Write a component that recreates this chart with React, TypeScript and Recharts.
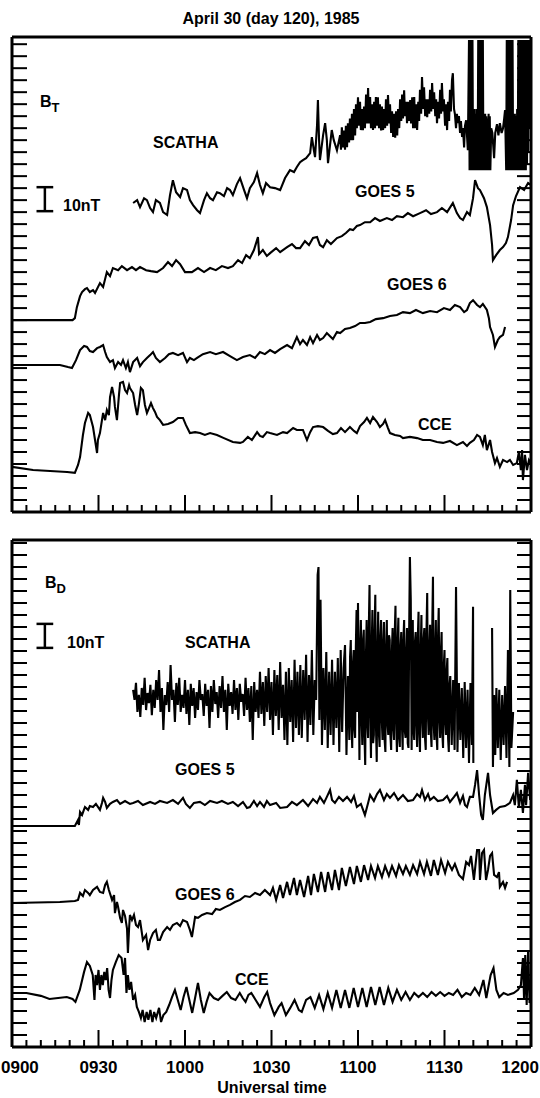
import { LineChart, Line, XAxis, YAxis, ReferenceLine } from 'recharts'

// time axis: minutes after 0900 UT
const MINOR_TICKS = [0, 5, 10, 15, 20, 25, 30, 35, 40, 45, 50, 55, 60, 65, 70, 75, 80, 85, 90, 95, 100, 105, 110, 115, 120, 125, 130, 135, 140, 145, 150, 155, 160, 165, 170, 175, 180]
const MAJOR_TICKS = [0, 30, 60, 90, 120, 150, 180]
const TIME_LABELS = ['0900', '0930', '1000', '1030', '1100', '1130', '1200']
const Y_TICKS_BT = [5, 10, 15, 20, 25, 30, 35, 40, 45, 50, 55, 60, 65, 70, 75, 80, 85, 90, 95, 100, 105, 110, 115, 120, 125, 130, 135, 140, 145, 150, 155, 160, 165, 170, 175, 180, 185, 190, 195]
const Y_TICKS_BD = [5, 10, 15, 20, 25, 30, 35, 40, 45, 50, 55, 60, 65, 70, 75, 80, 85, 90, 95, 100, 105, 110, 115, 120, 125, 130, 135, 140, 145, 150, 155, 160, 165, 170, 175, 180, 185, 190, 195, 200, 205, 210]

// B_T panel, stacked traces in nT (offsets as plotted)
const SCATHA_BT = [[42,128.8],[43.4,130],[44.4,127.1],[45.8,130.8],[46.8,130],[47.9,126.7],[48.9,125],[49.9,130],[51.3,128.8],[52.4,125],[53.8,123.8],[54.8,132.1],[55.8,138.3],[56.9,133.3],[58.3,131.3],[59.3,135],[60.7,134.2],[61.7,130],[62.8,127.9],[64.2,125.8],[65.2,124.6],[66.6,130],[67.6,132.9],[68.7,130.8],[69.7,130],[71.1,133.3],[72.1,132.9],[73.5,131.7],[74.6,135],[75.6,134.2],[76.6,132.1],[78,136.7],[79.1,139.2],[80.5,134.2],[81.5,130.8],[82.5,135],[83.9,137.5],[85,141.3],[86,136.3],[87,132.9],[88.1,137.1],[89.5,135.4],[91.2,135],[93,134.2],[94.7,139.2],[96.4,142.5],[97.8,141.7],[98.8,143.8],[99.9,145.8],[100.9,146.7],[102,147.5],[103.4,149.6],[104,156.3],[104.7,150.8],[105.1,147.9],[105.8,161.3],[106.1,171.7],[106.5,155],[106.8,146.7],[107.9,157.1],[108.6,162.1],[109.2,155],[109.6,145.4],[110.3,152.9],[110.9,159.2],[111.6,155],[112.7,150.8],[113.8,157.1],
  [114.1,151],[114.4,160.4],[114.8,152],[115.1,159],[115.5,151],[115.8,161],[116.2,152.1],[116.5,162],[116.9,154],[117.2,164],[117.6,155],[117.9,166],[118.3,155],[118.6,168],[119,157],[119.3,170],[119.6,160],[120,172.9],[120.3,161],[120.7,171],[121,159.2],[121.4,168],[121.7,159.2],[122.1,169],[122.4,160],[122.8,174],[123.1,162],[123.5,176.7],[123.8,162],[124.2,173],[124.5,160],[124.9,170],[125.2,159.2],[125.6,171],[125.9,160],[126.2,173],[126.6,161],[126.9,172.9],[127.3,160],[127.6,170],[128,159],[128.3,169],[128.7,159.2],[129,168],[129.4,160],[129.7,172],[130.1,161],[130.4,173.8],[130.8,162],[131.1,170],[131.5,158],[131.8,167],[132.2,156.3],[132.5,166],[132.9,156],[133.2,167],[133.6,157],[133.9,168],[134.3,160],[134.6,172],[135,163],[135.3,174],[135.6,164],[136,175.8],[136.3,165],[136.7,171],[137,162.1],[137.4,171],[137.7,163],[138.1,171.7],[138.4,162],[138.8,172.9],[139.1,160],[139.5,173],[139.8,160],[140.2,170],[140.5,159.2],[140.9,171],[141.2,163],[141.5,176],[141.9,166],[142.2,181.3],[142.6,168],[142.9,177],[143.3,165],[143.6,172],[144,164.6],[144.3,172],[144.7,166],[145,176],[145.4,167],[145.7,178.8],[146.1,168],[146.4,175],[146.8,165],[147.1,172],[147.4,162.1],[147.8,171],[148.1,164],[148.5,176],[148.8,166],[149.1,178.8],[149.5,167],[149.8,172],[150.2,161],[150.5,170],[150.9,159.2],[151.2,171],[151.6,163],[151.9,176],[152.2,167],[152.6,180],[152.9,182.9],[153.3,168],[153.6,166],[154,160],[154.3,166],[154.7,162.1],[155,165],[155.4,158],[155.7,163],[156.1,156.3],[156.4,160],[156.8,152],[157.1,161],[157.5,163.3],[158.1,150.8],
  [158.5,196.7],[158.7,142.5],[158.9,196.7],[159.1,142.5],[159.3,196.7],[159.5,142.5],[159.7,196.7],[159.9,142.5],[160.1,167],[160.3,142.5],[160.5,168],[160.7,142.5],[160.9,166],[161.1,142.5],[161.3,168],[161.5,142.5],[161.7,196.7],[161.9,142.5],[162.1,196.7],[162.3,142.5],[162.5,196.7],[162.7,142.5],[162.9,196.7],[163.1,142.5],[163.3,196.7],[163.5,142.5],[163.7,165],[163.9,142.5],[164.1,166],[164.3,142.5],[164.5,165],[164.7,142.5],[164.9,164],[165.1,142.5],[165.3,166],[165.5,142.5],[165.7,165],[165.9,142.5],[166.2,160],[166.6,158],[167.2,147.5],[167.6,158],[168.2,161.7],[168.7,157],[169.2,162.1],[169.8,158],[170.3,160],[170.7,164],[171,167.5],[171.4,142.5],[171.6,196.7],[171.8,142.5],[172,196.7],[172.2,142.5],[172.4,196.7],[172.6,142.5],[172.8,196.7],[173,142.5],[173.2,196.7],[173.4,142.5],[173.6,196.7],[173.8,142.5],[174,165],[174.2,142.5],[174.4,166],[174.6,142.5],[174.8,165],[175,142.5],[175.2,168],[175.4,142.5],[175.6,196.7],[175.8,142.5],[176,196.7],[176.2,142.5],[176.4,196.7],[176.6,142.5],[176.8,196.7],[177,142.5],[177.2,196.7],[177.4,142.5],[177.6,196.7],[177.8,142.5],[178,196.7],[178.2,142.5],[178.4,196.7],[178.6,145],[178.8,196.7],[179,150],[179.3,196.7],[179.6,160],[180,170]]

const GOES5_BT = [[0,80],[21,80],[21.8,80.8],[22.5,85.4],[23.6,90],[24.3,91.7],[25.3,92.9],[26,93.3],[27,91.7],[28.1,92.5],[28.8,91.3],[30.5,95.4],[31.6,93.8],[32.9,100],[34,98.3],[35,101.7],[36.8,100.8],[38.1,102.5],[39.9,100.8],[41.6,102.1],[43,100.8],[44.4,102.1],[46.5,100.8],[48.2,100.4],[50.3,100],[52.4,101.7],[54.1,104.2],[55.5,102.5],[56.9,105],[58.3,103.3],[60,100],[62.4,100],[64.5,101.7],[66.6,100],[68.7,101.7],[70.7,100.8],[72.8,102.5],[74.9,101.7],[76.6,102.5],[78.4,105],[79.8,103.8],[81.2,107.1],[82.5,105.8],[83.9,109.2],[85.3,114.6],[85.7,107.5],[87,109.2],[88.4,106.7],[89.5,107.9],[91.6,110],[93,108.3],[95.4,110.4],[97.1,111.7],[98.5,110],[99.9,110],[101.6,112.9],[103,111.3],[104.4,114.2],[105.8,114.6],[106.8,111.3],[107.9,110.4],[109.2,113.3],[110.6,111.7],[112.7,114.2],[114.4,115],[115.8,116.3],[117.2,117.9],[118.3,117.5],[119.6,119.2],[120.7,119.6],[122.4,120.8],[124.2,120.8],[125.9,122.5],[127.6,121.3],[130,122.5],[131.8,121.7],[133.5,123.3],[135.6,122.9],[137.3,124.6],[139.1,123.3],[141.5,124.6],[143.6,125.8],[145.3,124.2],[147.4,125],[149.1,126.7],[150.9,125],[152.9,128.8],[154.3,124.6],[155.4,122.5],[156.4,121.7],[157.8,125],[158.8,123.8],[159.9,130.8],[160.6,138.3],[161.6,135],[162.3,134.2],[163.7,130.8],[164.7,127.1],[165.8,119.6],[166.5,111.3],[166.8,105],[167.9,107.1],[169.2,109.2],[170.3,110.4],[171.3,112.1],[172,114.6],[173.1,121.7],[173.8,127.9],[174.8,131.7],[176.2,135.4],[177.6,134.2],[179,137.1],[180,136.3]]

const GOES6_BT = [[0,61.3],[16.6,61.3],[19.4,60.4],[20.8,60],[22.2,63.3],[23.6,67.5],[25,69.2],[26,68.8],[27,67.1],[28.1,66.7],[29.5,68.3],[30.5,68.8],[31.6,69.6],[32.3,66.7],[32.9,64.6],[34,62.5],[35,63.3],[35.7,60],[36.8,62.5],[37.8,61.3],[38.5,63.3],[39.5,60],[40.2,62.5],[40.9,58.3],[42,62.5],[43.4,64.2],[44.4,60.8],[45.4,62.5],[46.8,64.2],[47.9,65.4],[48.9,66.7],[49.9,64.2],[51.3,62.5],[53.1,64.2],[54.4,65.8],[55.8,66.3],[57.6,65.4],[59.3,66.3],[60.7,62.5],[61.7,64.2],[63.1,63.3],[64.2,64.2],[66.2,65.8],[68.7,66.7],[70.7,65.8],[73.2,66.7],[75.6,65],[78,63.3],[80.1,64.6],[82.5,65.4],[84.3,64.2],[86,66.7],[87.7,65.8],[89.5,67.5],[91.2,66.3],[93,67.9],[95.4,69.6],[97.1,68.3],[98.8,72.9],[99.9,70],[100.9,71.7],[102.3,69.6],[103.4,72.9],[104.4,70.4],[105.8,73.8],[106.8,71.7],[107.9,72.5],[109.2,74.6],[110.3,73.3],[111.3,72.1],[112.7,75],[113.8,74.6],[115.5,76.3],[117.2,76.7],[119,77.5],[120.7,78.8],[122.4,78.8],[124.2,79.2],[126.2,80.4],[128.7,80.8],[131.1,81.7],[133.5,82.1],[135.6,83.3],[138,82.9],[140.1,84.2],[142.5,82.9],[145,83.8],[147.4,83.3],[149.8,85],[151.9,84.2],[153.6,86.3],[155.4,85.4],[156.8,83.3],[157.8,84.2],[158.8,87.1],[159.9,88.3],[161.3,86.3],[162.3,85.4],[163.3,86.7],[164.7,84.2],[165.4,80.8],[165.8,77.1],[166.8,73.8],[167.5,68.8],[168.5,71.7],[169.2,72.9],[170.3,73.8],[171,77.1]]

const CCE_BT = [[0,18.8],[7.3,17.5],[13.2,17.1],[19.1,16.7],[21.8,16.3],[22.9,19.6],[23.6,22.9],[24.6,32.1],[25.3,37.1],[26.4,41.3],[27,40.4],[28.1,35.4],[28.8,30],[29.5,24.6],[29.8,30],[30.5,32.9],[31.6,41.3],[32.3,38.3],[32.9,42.5],[33.6,40.4],[34,47.9],[34.7,52.1],[35.4,47.9],[35.7,43.8],[36.4,38.3],[37.1,48.8],[37.5,53.8],[38.5,54.2],[39.2,50.8],[39.9,49.6],[40.6,52.9],[40.9,51.7],[42,49.6],[42.7,44.6],[43.4,40.4],[44,45],[44.7,51.7],[45.4,50.8],[46.1,44.6],[46.8,41.3],[47.5,43.3],[48.2,45.4],[48.9,43.3],[49.6,41.7],[50.3,39.6],[51.3,38.3],[52.4,36.3],[54.1,36.7],[55.8,37.5],[57.6,39.2],[59.3,39.2],[60.3,36.3],[61.7,32.9],[63.5,33.3],[65.2,32.9],[66.9,32.1],[68.7,32.9],[71.1,32.1],[73.5,30.8],[76.6,29.2],[79.1,28.8],[80.1,29.2],[81.8,31.3],[83.2,30],[85,33.3],[86,31.7],[87,31.3],[88.4,33.3],[89.5,32.9],[91.9,32.1],[94,33.3],[95.4,32.9],[97.5,35],[98.8,34.2],[100.9,34.2],[102.3,30],[103.4,33.3],[104.4,35.4],[106.1,35.8],[107.9,35.4],[109.6,33.8],[111.3,32.5],[112.7,32.9],[114.1,35],[115.5,33.3],[117.2,35.4],[118.6,33.8],[119.6,32.9],[120.7,35.8],[122.1,37.5],[123.1,39.2],[124.2,37.1],[125.2,39.6],[126.6,37.5],[127.6,35.4],[128.7,36.7],[129.4,38.3],[130.4,35],[131.1,32.9],[132.8,32.1],[134.6,31.7],[135.6,30.8],[138,31.3],[140.5,30.8],[142.5,30],[145,30],[147.4,29.2],[149.5,28.8],[151.9,29.6],[154.3,27.9],[156.4,29.2],[157.8,27.5],[158.8,28.8],[160.2,30],[161.3,32.1],[162.3,31.3],[163.3,27.9],[164,32.1],[164.7,25.8],[165.8,30],[166.5,25],[167.5,20.4],[168.2,22.5],[169.2,18.8],[170.3,21.7],[171.7,20.8],[172.7,21.7],[173.8,19.6],[175.1,20.4],[175.8,25],[176.5,17.5],[176.9,25.8],[177.2,13.3],[177.9,23.8],[178.6,17.5],[179.3,21.7],[180,20.4]]

// B_D panel
const SCATHA_BD_BASE = 144.6
const SCATHA_BD = [[42,4.2],[42.5,0],[43,7.1],[43.5,-5],[44,2.1],[44.5,-7.1],[45,5],[45.5,-2.1],[46,9.2],[46.5,-4.2],[47,2.9],[47.5,-1.3],[48,6.3],[48.5,-6.3],[49,4.2],[49.5,-3.3],[50,8.3],[50.5,0],[51,12.5],[51.5,-5],[52,5],[52.5,-12.5],[53,2.1],[53.5,-2.1],[54,7.5],[54.5,-5],[55,14.6],[55.5,0],[56,4.2],[56.5,-9.2],[57,7.1],[57.5,-2.1],[58,9.2],[58.5,-5],[59,2.1],[59.5,-3.3],[60,8.3],[60.5,-5.8],[61,4.2],[61.5,-10.4],[62,6.7],[62.5,-2.5],[63,5],[63.5,-7.5],[64,3.3],[64.5,-4.2],[65,8.3],[65.5,0],[66,2.5],[66.5,-6.7],[67,6.7],[67.5,-2.5],[68,4.2],[68.5,-11.7],[69,5.8],[69.5,-5],[70,8.3],[70.5,-1.7],[71,3.3],[71.5,-7.5],[72,5.8],[72.5,-3.3],[73,10],[73.5,-5],[74,4.2],[74.5,-12.5],[75,6.7],[75.5,-2.5],[76,3.3],[76.5,-5.8],[77,8.3],[77.5,-4.2],[78,5],[78.5,-8.3],[79,6.7],[79.5,-0.8],[80,2.5],[80.5,-6.7],[81,9.2],[81.5,-4.2],[82,5],[82.5,-9.2],[83,5.8],[83.5,-16.7],[84,7.5],[84.5,-5],[85,4.2],[85.5,-7.5],[86,11.7],[86.5,-5.8],[87,7.5],[87.5,-10.8],[88,10],[88.5,-5],[89,13.3],[89.5,-8.3],[90,7.5],[90.5,-14.6],[91,12.5],[91.5,-6.7],[92,10.4],[92.5,-12.5],[93,15.8],[93.5,-7.5],[94,6.3],[94.5,-16.7],[95,11.7],[95.5,-18.8],[96,13.3],[96.5,-9.2],[97,8.3],[97.5,-17.5],[98,16.7],[98.5,-11.7],[99,11.7],[99.5,-14.6],[100,14.6],[100.5,-15.8],[101,12.5],[101.5,-8.3],[102,18.8],[102.5,-17.5],[103,10.4],[103.5,-10.4],[104,20.8],[104.5,-14.6],[105,8.3],[105.5,0],[106,52.1],[106.3,55.4],[106.6,-8.3],[107,41.7],[107.5,-18.8],[108,13.3],[108.5,-12.5],[109,20],[109.5,-20],[110,11.7],[110.5,-14.6],[111,16.7],[111.5,-18.8],[112,11.7],[112.5,-11.7],[113,17.5],[113.5,-21.7],[114,20.8],[114.5,-13.3],[115,13.3],[115.5,22.9],[116,-22.9],[116.5,10],
  [117,-16.7],[117.25,18],[117.5,25],[117.75,-10],[118,-20],[118.25,15],[118.5,20.8],[118.75,-12],[119,-15.8],[119.25,22],[119.5,37.5],[119.75,-5],[120,40.4],[120.25,10],[120.5,-25],[120.75,20],[121,33.3],[121.25,-8],[121.5,-18.8],[121.75,25],[122,29.2],[122.25,-15],[122.5,-27.1],[122.75,18],[123,33.3],[123.25,-10],[123.5,-15.8],[123.75,30],[124,47.9],[124.25,-5],[124.5,-24.2],[124.75,22],[125,37.5],[125.25,-18],[125.5,-14.6],[125.75,28],[126,43.8],[126.25,-12],[126.5,-25.8],[126.75,20],[127,36.7],[127.25,-14],[127.5,-19.6],[127.75,26],[128,33.3],[128.25,-8],[128.5,-16.7],[128.75,24],[129,32.5],[129.25,-17],[129.5,-21.7],[129.75,22],[130,33.3],[130.25,-10],[130.5,-14.6],[130.75,27],[131,25],[131.25,-15],[131.5,-20.8],[131.75,20],[132,30],[132.25,-12],[132.5,-16.7],[132.75,28],[133,39.2],[133.25,-9],[133.5,-21.7],[133.75,24],[134,34.2],[134.25,-16],[134.5,-19.6],[134.75,22],[135,28.3],[135.25,-11],[135.5,-20.8],[135.75,25],[136,33.3],[136.25,-13],[136.5,-15.8],[136.75,20],[137,30],[137.25,-18],[137.5,-20],[137.75,30],[138,59.6],[138.3,41.7],[138.6,-20.8],[138.8,18],[139,33.3],[139.25,-12],[139.5,-16.7],[139.75,24],[140,28.3],[140.25,-10],[140.5,-19.6],[140.75,26],[141,36.7],[141.25,-14],[141.5,-21.7],[141.75,20],[142,35.4],[142.25,-8],[142.5,-15.8],[142.75,25],[143,30],[143.25,-16],[143.5,-20.8],[143.75,28],[144,44.6],[144.25,-6],[144.5,-14.6],[144.75,22],[145,31.3],[145.25,-13],[145.5,-19.6],[145.75,30],[146,51.3],[146.25,-10],[146.5,-16.7],[146.75,22],[147,33.3],[147.25,-15],[147.5,-20.8],[147.75,26],[148,38.3],[148.25,-8],[148.5,-15.8],[148.75,20],[149,28.3],[149.25,-14],[149.5,-20],[149.75,14],[150,20.8],[150.25,-9],[150.5,-14.6],[150.75,12],[151,17.5],[151.25,-16],[151.5,-21.7],[151.75,6],[152,10],
  [152.5,-18.8],[153,8.3],[153.5,-20.8],[154,47.1],[154.5,-21.7],[155,7.1],[155.5,-16.7],[156,5],[156.5,-24.2],[157,7.5],[157.5,-20],[158,4.2],[158.5,-26.3],[159,7.1],[159.5,-18.8],[159.9,38.8],[160,-26.3],[163,null],[166.5,30],[166.8,-27.9],[167.2,2.1],[167.6,-22.9],[168,5],[168.5,-20],[169,4.2],[169.5,-25],[170,2.1],[170.5,-18.8],[171,5.8],[171.5,-24.2],[172,20.8],[172.5,-27.9],[172.8,45.8],[173.2,-20],[173.8,-5]]

const GOES5_BD = [[0,92.1],[21.8,92.1],[22.9,94.6],[23.2,92.5],[23.6,97.9],[24.3,96.7],[25.3,100],[26.4,98.8],[27,100.4],[28.1,100],[29.1,101.3],[30.5,98.8],[31.2,101.7],[31.6,103.8],[32.3,102.1],[32.9,99.6],[34,101.3],[35,102.1],[36.4,102.9],[37.5,101.3],[39.2,102.5],[40.9,101.3],[42,101.7],[43.7,102.5],[45.4,100.8],[47.9,102.1],[49.6,101.3],[51.3,102.5],[53.8,101.7],[55.8,102.9],[57.6,101.3],[59.3,103.8],[60.3,101.3],[61.7,99.6],[63.1,101.7],[65.2,102.1],[66.9,100.8],[68.7,102.5],[71.1,101.7],[72.8,102.5],[74.9,101.3],[76.6,102.1],[78.4,100.4],[80.1,102.1],[81.5,99.6],[82.5,100],[83.9,102.5],[85,100.4],[86,102.1],[87.4,100],[88.4,102.5],[89.5,100.8],[91.6,101.7],[93,99.6],[95.4,100],[97.1,102.1],[98.8,100.8],[100.9,102.9],[102.7,100.4],[104.4,103.3],[105.8,101.7],[106.8,104.2],[108.2,101.7],[109.2,104.2],[110.3,107.1],[111,102.9],[112,101.7],[113.4,104.2],[114.8,102.5],[116.2,104.2],[117.6,102.1],[118.6,104.6],[119.6,100],[121,101.3],[122.4,96.7],[123.5,101.7],[124.2,105],[125.5,102.5],[126.6,105.4],[127.6,107.1],[129,102.9],[130,105.4],[131.1,103.8],[132.5,105.8],[133.9,102.9],[135.6,105],[137.3,102.5],[139.1,102.9],[140.5,105.4],[141.5,104.2],[142.2,107.1],[143.2,102.9],[144.3,105.4],[145,102.9],[146.3,104.2],[147.7,102.5],[149.5,102.9],[150.9,104.6],[151.9,102.1],[153.3,104.2],[154.3,105.8],[155.4,101.7],[156.4,104.6],[157.1,100.8],[157.8,100],[158.8,104.2],[159.9,104.2],[160.6,109.2],[161.3,115.4],[162,105],[162.7,96.7],[163.3,94.6],[164,105],[165.1,114.2],[165.8,105],[166.8,97.5],[167.9,98.8],[169.2,100],[171,100.4],[172.7,101.7],[173.8,105],[174.4,100.8],[175.1,111.3],[175.8,99.6],[176.5,107.1],[177.2,97.5],[177.9,109.2],[178.3,100.8],[179,114.2],[179.7,102.9]]

const GOES6_BD = [[0,60],[16.6,60.4],[21.8,60.8],[22.9,61.3],[23.6,64.2],[24.6,62.9],[25.3,65.4],[26.4,64.2],[27,63.3],[28.1,65.4],[29.5,66.7],[30.5,64.6],[31.6,64.2],[32.3,67.5],[32.9,68.8],[33.6,65.4],[34.7,61.3],[35.4,63.3],[35.7,55.8],[36.4,60.4],[36.8,58.3],[37.5,53.8],[38.1,51.7],[38.5,57.1],[39.2,54.6],[39.9,49.2],[40.2,39.2],[40.6,49.2],[40.9,55],[41.6,52.9],[42.3,55],[43,50.8],[43.7,50],[44.4,52.9],[45.4,44.6],[46.5,46.7],[47.2,40.4],[47.9,44.6],[48.9,47.5],[49.9,48.8],[50.6,44.6],[51.3,44.6],[52.4,47.9],[53.8,50],[54.8,48.8],[55.8,50.8],[57.2,51.7],[58.3,50.4],[59.3,52.9],[60.7,52.1],[61.7,48.8],[62.4,45.8],[63.5,54.2],[64.5,53.8],[65.9,55],[67.6,55.8],[69.4,55.4],[70.7,57.5],[72.1,57.1],[73.9,58.3],[75.6,59.2],[77.3,60.4],[79.1,61.3],[80.8,62.9],[82.5,62.5],[84.3,64.2],[86,63.3],[87.7,65.4],[89.5,63.3],[90.5,66.3],[91.6,61.3],[93,67.5],[94,62.1],[95.4,68.8],[96.4,63.3],[97.8,70.4],[98.8,63.3],[99.9,69.6],[101.3,62.5],[102.7,71.3],[103.7,63.3],[104.7,72.1],[106.1,64.6],[107.2,72.9],[108.6,64.6],[109.6,72.9],[111,65.4],[112,73.8],[113.4,65.4],[114.4,74.6],[115.8,67.1],[117.2,75],[118.6,67.9],[119.6,75.4],[121,68.8],[122.1,75.8],[123.5,69.6],[124.5,75.4],[125.9,70.4],[126.9,75.4],[128.3,70.8],[129.4,75.4],[130.7,71.3],[131.8,75.4],[133.2,71.3],[134.2,75.8],[135.6,72.1],[136.6,75.4],[138,71.7],[139.1,75.8],[140.5,72.1],[141.5,77.1],[142.9,72.1],[143.9,77.1],[145.3,71.3],[146.3,77.9],[147.7,71.7],[148.8,77.9],[150.2,72.5],[151.2,77.1],[152.6,73.8],[153.6,76.3],[155,71.7],[156.4,70],[157.5,77.1],[158.5,75.8],[159.2,79.6],[160.2,69.6],[161.3,82.1],[162,82.1],[162.3,69.6],[163,80.8],[163.7,82.1],[164.4,69.6],[165.1,73.8],[165.8,79.6],[166.5,80.8],[167.2,71.7],[168.2,70.8],[168.9,72.9],[169.2,66.7],[170.3,68.8],[171,66.3],[171.7,68.8]]

const CCE_BD = [[0,22.5],[5,22.5],[10,21.3],[13,20],[16,20.4],[19,20.8],[21,20],[22,18.8],[23.5,23.8],[25,31.3],[26,35.4],[27,33.8],[28,30],[28.6,19.6],[29,30],[29.5,25.8],[30,32.1],[30.5,23.8],[31,30],[31.5,25.8],[32,31.3],[32.5,27.9],[33,32.9],[33.5,23.8],[34,20.4],[34.5,27.9],[35,32.1],[36,35.4],[37,38.3],[38,37.1],[38.7,30],[39.2,37.1],[39.7,22.5],[40.2,30],[40.7,23.8],[41.3,27.1],[42,19.6],[42.7,21.7],[43.3,16.7],[44,14.6],[44.7,12.1],[45.3,15.4],[46,10.4],[46.7,14.6],[47.3,11.3],[48,15.4],[48.7,10.4],[49.3,14.6],[50,12.1],[51,16.3],[51.7,10.4],[52.5,13.3],[53.5,14.6],[54.5,17.5],[55.5,20.8],[56.5,23.8],[57.5,19.6],[58.5,15.4],[59.5,20.8],[60.5,25],[61.5,19.6],[62.5,14.2],[63.5,20.4],[64.5,26.7],[65.5,19.6],[66.5,14.2],[67.5,18.8],[68.5,22.5],[70,20.4],[71.5,19.6],[73,21.3],[74.5,22.9],[76,20.4],[77.5,19.6],[79,22.5],[80,20.4],[81,18.8],[82,21.7],[83,22.5],[84.5,19.6],[86,16.7],[87.5,20.8],[88.5,22.9],[89.5,18.3],[91,13.3],[92.5,16.7],[93.5,18.3],[95,13.3],[96.5,16.3],[98,19.6],[99.5,15.4],[100.5,14.6],[102,19.6],[103.5,20.8],[105,16.3],[106.5,21.7],[108,15.8],[109.5,22.5],[111,16.3],[112.5,23.8],[114,16.3],[115.5,23.8],[117,16.3],[118.5,24.6],[120,16.7],[121.5,24.6],[123,16.7],[124.5,25],[126,17.5],[127.5,25],[129,17.5],[130.5,24.6],[132,18.8],[133.5,23.8],[135,19.6],[136.5,22.9],[138,19.6],[139.5,22.5],[141,20.8],[142.5,22.5],[144,20.8],[145.5,22.9],[147,21.3],[148.5,22.9],[150,21.3],[151.5,22.5],[153,21.7],[154.5,23.8],[156,20.8],[157.5,22.5],[159,21.7],[160.5,24.6],[162,21.7],[163.5,27.9],[164.5,20.4],[166,30],[167,32.9],[168,23.8],[169,20.8],[170.5,22.5],[172,21.7],[174,22.5],[175.5,23.8],[176.5,25.8],[177.2,37.1],[177.6,19.6],[178,38.3],[178.5,17.5],[179,40.4],[179.5,18.3],[180,25.8]]

type Pt = (number | null)[]
const rows = (pts: Pt[], base = 0) =>
  pts.map(([t, v]) => ({ t, v: v === null ? null : (v as number) + base }))

const TOP_SERIES = [rows(SCATHA_BT), rows(GOES5_BT), rows(GOES6_BT), rows(CCE_BT)]
const BOT_SERIES = [rows(SCATHA_BD, SCATHA_BD_BASE), rows(GOES5_BD), rows(GOES6_BD), rows(CCE_BD)]

const FONT = '"Liberation Sans", Arial, Helvetica, sans-serif'
const AXIS = { stroke: '#000', strokeWidth: 3 }

const bottomTick = (withLabels: boolean) => (p: any) => {
  const i = MAJOR_TICKS.indexOf(p.payload.value)
  const major = i >= 0
  let tx = p.x
  let anchor = 'middle'
  if (i === 0) { tx = 1; anchor = 'start' }
  if (i === MAJOR_TICKS.length - 1) { tx = 539; anchor = 'end' }
  return (
    <g>
      <line x1={p.x} x2={p.x} y1={p.y} y2={p.y - (major ? 17 : 7)} stroke="#000" strokeWidth={2} />
      {withLabels && major && (
        <text x={tx} y={p.y + 26} textAnchor={anchor} fontFamily={FONT} fontWeight={700} fontSize={17} fill="#000">
          {TIME_LABELS[i]}
        </text>
      )}
    </g>
  )
}

const topTick = (p: any) => {
  const major = MAJOR_TICKS.includes(p.payload.value)
  return <line x1={p.x} x2={p.x} y1={p.y} y2={p.y + (major ? 17 : 7)} stroke="#000" strokeWidth={2} />
}
const leftTick = (p: any) => <line x1={p.x} x2={p.x + 15} y1={p.y} y2={p.y} stroke="#000" strokeWidth={2} />
const rightTick = (p: any) => <line x1={p.x} x2={p.x - 14} y1={p.y} y2={p.y} stroke="#000" strokeWidth={2} />

// axes keep a small size so they are laid out; margins make up the rest
const AX_H = 6
const AX_W = 6

function Panel({ top, height, plot, yMax, yTicks, series, bar, withLabels }: any) {
  const barW = 2.9
  const margin = {
    top: plot.top - AX_H,
    bottom: height - plot.bottom - AX_H,
    left: 12 - AX_W,
    right: 540 - 531 - AX_W,
  }
  return (
    <div style={{ position: 'absolute', left: 0, top }}>
      <LineChart width={540} height={height} margin={margin}>
        <XAxis xAxisId="b" dataKey="t" type="number" domain={[0, 180]} ticks={MINOR_TICKS} interval={0}
          height={AX_H} tickSize={0} tickMargin={0} tickLine={false} axisLine={AXIS} tick={bottomTick(withLabels)} allowDataOverflow />
        <XAxis xAxisId="t" orientation="top" type="number" domain={[0, 180]} ticks={MINOR_TICKS} interval={0}
          height={AX_H} tickSize={0} tickMargin={0} tickLine={false} axisLine={AXIS} tick={topTick} allowDataOverflow />
        <YAxis yAxisId="l" type="number" domain={[0, yMax]} ticks={yTicks} interval={0} width={AX_W}
          tickSize={0} tickMargin={0} tickLine={false} axisLine={AXIS} tick={leftTick} allowDataOverflow />
        <YAxis yAxisId="r" orientation="right" type="number" domain={[0, yMax]} ticks={yTicks} interval={0} width={AX_W}
          tickSize={0} tickMargin={0} tickLine={false} axisLine={AXIS} tick={rightTick} allowDataOverflow />
        {series.map((d: any, i: number) => (
          <Line key={i} xAxisId="b" yAxisId="l" data={d} dataKey="v" type="linear" dot={false}
            stroke="#000" strokeWidth={2.1} connectNulls={false} isAnimationActive={false} />
        ))}
        <ReferenceLine xAxisId="b" yAxisId="l" stroke="#000" strokeWidth={2.5}
          segment={[{ x: bar.t, y: bar.y }, { x: bar.t, y: bar.y + 10 }]} />
        <ReferenceLine xAxisId="b" yAxisId="l" stroke="#000" strokeWidth={2.5}
          segment={[{ x: bar.t - barW, y: bar.y }, { x: bar.t + barW, y: bar.y }]} />
        <ReferenceLine xAxisId="b" yAxisId="l" stroke="#000" strokeWidth={2.5}
          segment={[{ x: bar.t - barW, y: bar.y + 10 }, { x: bar.t + barW, y: bar.y + 10 }]} />
      </LineChart>
    </div>
  )
}

const T = (x: number, y: number, s: string, size = 16, anchor = 'start') => (
  <text x={x} y={y} textAnchor={anchor} fontFamily={FONT} fontWeight={700} fontSize={size} fill="#000">{s}</text>
)

export default function App() {
  return (
    <div style={{ position: 'absolute', left: 0, top: 0, width: 540, height: 1098, background: '#fff', overflow: 'hidden' }}>
      <Panel top={0} height={520} plot={{ top: 37, bottom: 512 }} yMax={198}
        yTicks={Y_TICKS_BT} series={TOP_SERIES} bar={{ t: 11.4, y: 125.4 }} withLabels={false} />
      <Panel top={520} height={578} plot={{ top: 20, bottom: 527 }} yMax={211.25}
        yTicks={Y_TICKS_BD} series={BOT_SERIES} bar={{ t: 11.4, y: 166.3 }} withLabels={true} />
      <svg width={540} height={1098} style={{ position: 'absolute', left: 0, top: 0, pointerEvents: 'none' }}>
        {T(271, 24, 'April 30 (day 120), 1985', 16, 'middle')}
        <text x={40} y={107} fontFamily={FONT} fontWeight={700} fontSize={16}>B<tspan fontSize={13} dy={5}>T</tspan></text>
        {T(153, 148, 'SCATHA')}
        {T(63, 211, '10nT')}
        {T(355, 197, 'GOES 5')}
        {T(387, 290, 'GOES 6')}
        {T(418, 430, 'CCE')}
        <text x={45} y={588} fontFamily={FONT} fontWeight={700} fontSize={16}>B<tspan fontSize={13} dy={5}>D</tspan></text>
        {T(67, 648, '10nT')}
        {T(185, 648, 'SCATHA')}
        {T(175, 775, 'GOES 5')}
        {T(175, 900, 'GOES 6')}
        {T(235, 985, 'CCE')}
        {T(272, 1093, 'Universal time', 16, 'middle')}
      </svg>
    </div>
  )
}
